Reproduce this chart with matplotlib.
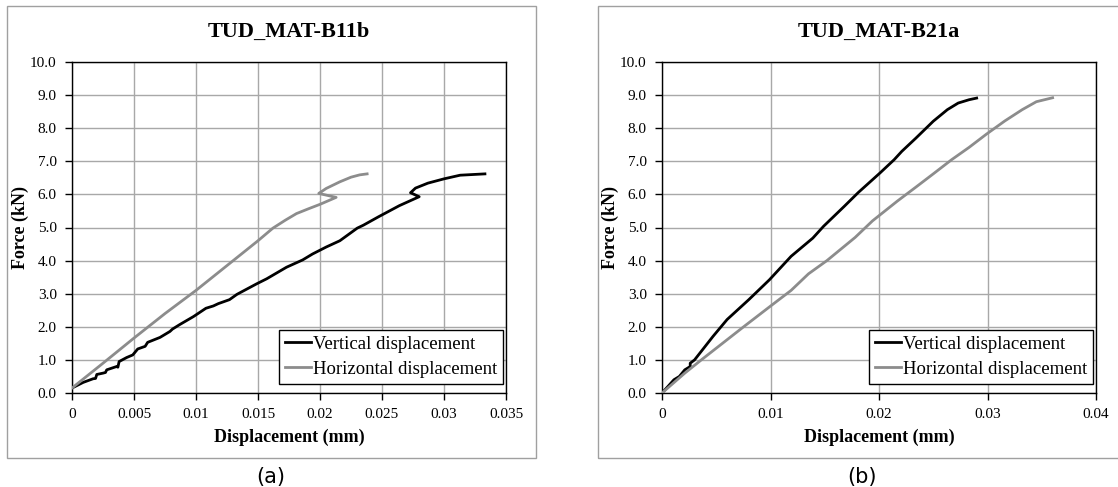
import numpy as np
import matplotlib
matplotlib.use("Agg")
import matplotlib.pyplot as plt
from matplotlib.patches import Rectangle
from matplotlib.ticker import FuncFormatter, MultipleLocator

plt.rcParams['font.family'] = ['Liberation Serif', 'DejaVu Serif']

# Specimen TUD_MAT-B11b
vert_a_x = [0, 0.0009, 0.0017, 0.0019, 0.0020, 0.0025, 0.0027, 0.0028, 0.0036, 0.0037,
            0.0038, 0.0044, 0.0049, 0.0053, 0.0059, 0.0061, 0.0071, 0.0079, 0.0081, 0.0087,
            0.0098, 0.0108, 0.0114, 0.0118, 0.0127, 0.0133, 0.0149, 0.0157, 0.0173, 0.0186,
            0.0194, 0.0205, 0.0216, 0.0230, 0.0235, 0.0247, 0.0264, 0.0277, 0.0280, 0.0273,
            0.0277, 0.0287, 0.0300, 0.0313, 0.0333]
vert_a_f = [0.15, 0.32, 0.43, 0.44, 0.56, 0.60, 0.62, 0.70, 0.80, 0.78,
            0.95, 1.07, 1.15, 1.33, 1.41, 1.53, 1.68, 1.86, 1.93, 2.07,
            2.31, 2.56, 2.63, 2.70, 2.82, 2.98, 3.30, 3.45, 3.80, 4.02,
            4.20, 4.41, 4.60, 4.98, 5.07, 5.32, 5.66, 5.88, 5.93, 6.05,
            6.19, 6.34, 6.47, 6.58, 6.62]
horz_a_x = [0, 0.0025, 0.005, 0.0075, 0.010, 0.0125, 0.0141, 0.0150, 0.0162, 0.0172,
            0.0181, 0.0191, 0.0200, 0.0213, 0.0199, 0.0205, 0.0216, 0.0225, 0.0232, 0.0238]
horz_a_f = [0.15, 0.90, 1.66, 2.40, 3.10, 3.85, 4.33, 4.60, 4.98, 5.22,
            5.42, 5.57, 5.70, 5.91, 6.03, 6.18, 6.38, 6.52, 6.59, 6.62]

# Specimen TUD_MAT-B21a
vert_b_x = [0, 0.0005, 0.0011, 0.0016, 0.0021, 0.0026, 0.0026, 0.0030, 0.0047, 0.0060,
            0.0080, 0.0099, 0.0119, 0.0139, 0.0149, 0.0168, 0.0181, 0.0201, 0.0214, 0.0221,
            0.0234, 0.0250, 0.0263, 0.0273, 0.0283, 0.0290]
vert_b_f = [0, 0.18, 0.40, 0.50, 0.70, 0.80, 0.90, 1.00, 1.71, 2.22,
            2.82, 3.42, 4.13, 4.68, 5.04, 5.64, 6.06, 6.65, 7.05, 7.30,
            7.70, 8.21, 8.56, 8.76, 8.86, 8.91]
horz_b_x = [0, 0.0021, 0.0037, 0.0076, 0.0099, 0.0119, 0.0135, 0.0152, 0.0178, 0.0194,
            0.0217, 0.0234, 0.0250, 0.0267, 0.0283, 0.0299, 0.0316, 0.0332, 0.0345, 0.0360]
horz_b_f = [0, 0.60, 1.02, 2.02, 2.60, 3.10, 3.60, 4.00, 4.70, 5.20,
            5.80, 6.22, 6.62, 7.05, 7.42, 7.82, 8.22, 8.56, 8.80, 8.92]

W, H = 1118, 487
fig = plt.figure(figsize=(W / 100, H / 100), dpi=100)


def px(x0, y0, x1, y1):
    # pixel box (top-left origin) -> figure fraction rect
    return [x0 / W, 1 - y1 / H, (x1 - x0) / W, (y1 - y0) / H]


def panel(rect, box, title, caption, cap_x, vx, vf, hx, hf, xmax, xstep):
    r = Rectangle((box[0] / W, 1 - box[3] / H), (box[2] - box[0]) / W, (box[3] - box[1]) / H,
                  transform=fig.transFigure, fill=False, edgecolor='#a0a0a0', lw=1.0)
    fig.patches.append(r)

    ax = fig.add_axes(rect)
    ax.plot(vx, vf, color='black', lw=2, label='Vertical displacement', zorder=3)
    ax.plot(hx, hf, color='#8c8c8c', lw=2, label='Horizontal displacement', zorder=3)
    ax.set_xlim(0, xmax)
    ax.set_ylim(0, 10)
    ax.xaxis.set_major_locator(MultipleLocator(xstep))
    ax.yaxis.set_major_locator(MultipleLocator(1))
    ax.xaxis.set_major_formatter(FuncFormatter(lambda v, p: '%g' % round(v, 4)))
    ax.yaxis.set_major_formatter(FuncFormatter(lambda v, p: '%.1f' % v))
    ax.grid(True, color='#a8a8a8', lw=1.0)
    ax.set_axisbelow(True)
    for s in ax.spines.values():
        s.set_linewidth(1.0)
    ax.tick_params(direction='out', length=5, width=1, labelsize=11, pad=6)
    ax.set_title(title, fontsize=16, fontweight='bold', pad=18)
    ax.set_xlabel('Displacement (mm)', fontsize=13, fontweight='bold', labelpad=5)
    ax.set_ylabel('Force (kN)', fontsize=13, fontweight='bold', labelpad=1)
    leg = ax.legend(loc='lower right', bbox_to_anchor=(0.993, 0.027), fontsize=13.5,
                    fancybox=False, edgecolor='black', framealpha=1, handlelength=1.4,
                    handletextpad=0.1, borderpad=0.32, borderaxespad=0, labelspacing=0.38,
                    handleheight=0.8)
    leg.get_frame().set_linewidth(1.0)
    fig.text(cap_x / W, 1 - 477 / H, caption, ha='center', va='center',
             fontsize=15, family='DejaVu Sans')
    return ax


panel(px(72, 62, 506, 393), (7, 6, 536, 458), 'TUD_MAT-B11b', '(a)', 271,
      vert_a_x, vert_a_f, horz_a_x, horz_a_f, 0.035, 0.005)
panel(px(662, 62, 1096, 393), (598, 6, 1127, 458), 'TUD_MAT-B21a', '(b)', 862,
      vert_b_x, vert_b_f, horz_b_x, horz_b_f, 0.04, 0.01)

fig.savefig('out.png', dpi=100)
